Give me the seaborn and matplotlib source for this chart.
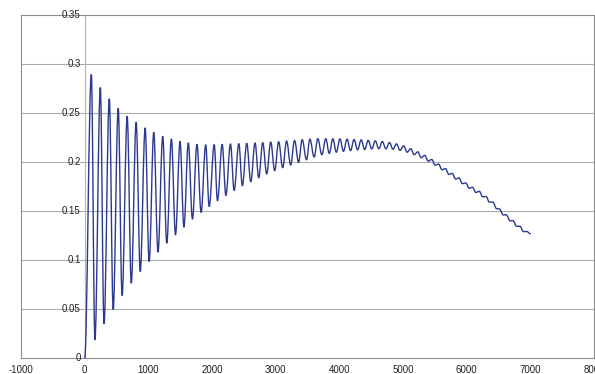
import matplotlib
matplotlib.use("Agg")
import matplotlib.pyplot as plt
from matplotlib.path import Path
from matplotlib.patches import PathPatch
import seaborn as sns
import pandas as pd

# Local maxima of the response (time, value)
peak_t = [105, 246, 387, 527, 668, 809, 950, 1085, 1226, 1362, 1498, 1628, 1764, 1901,
          2035, 2160, 2290, 2421, 2546, 2676, 2797, 2922, 3047, 3172, 3297, 3416, 3537, 3662, 3787,
          3898, 4009, 4121, 4232, 4343, 4454, 4565, 4676, 4787, 4898, 5010, 5121, 5232, 5341,
          5451, 5559, 5667, 5773, 5880, 5986, 6092, 6199, 6305, 6412, 6518, 6625, 6731, 6838, 6944]
peak_v = [0.2891, 0.2758, 0.2643, 0.2547, 0.2465, 0.2404, 0.2347, 0.2302, 0.2261, 0.2235,
          0.2210, 0.2194, 0.2180, 0.2175, 0.2177, 0.2180, 0.2184, 0.2187, 0.2190, 0.2194,
          0.2197, 0.2204, 0.2207, 0.2214, 0.2220, 0.2228, 0.2234, 0.2238, 0.2238,
          0.2237, 0.2236, 0.2233, 0.2230, 0.2226, 0.2221, 0.2216, 0.2209, 0.2199, 0.2185,
          0.2165, 0.2136, 0.2104, 0.2068, 0.2026, 0.1978, 0.1933, 0.1884, 0.1838, 0.1787,
          0.1742, 0.1701, 0.1648, 0.1591, 0.1520, 0.1460, 0.1400, 0.1344, 0.1291]

# Local minima of the response (time, value)
trough_t = [161, 304, 448, 588, 732, 873, 1013, 1152, 1290, 1427, 1559, 1693, 1829,
            1956, 2086, 2218, 2348, 2477, 2609, 2734, 2859, 2985, 3110, 3235, 3360, 3485, 3604, 3725,
            3842, 3953, 4065, 4176, 4287, 4398, 4509, 4620, 4731, 4842, 4954, 5065, 5176, 5286,
            5396, 5505, 5613, 5720, 5826, 5933, 6039, 6145, 6252, 6358, 6465, 6571, 6678, 6784, 6891]
trough_v = [0.0187, 0.0350, 0.0497, 0.0639, 0.0765, 0.0884, 0.0986, 0.1082, 0.1173, 0.1258,
            0.1337, 0.1418, 0.1486, 0.1547, 0.1605, 0.1659, 0.1710, 0.1758, 0.1799, 0.1840,
            0.1878, 0.1911, 0.1942, 0.1969, 0.1996, 0.2023, 0.2051, 0.2074,
            0.2088, 0.2099, 0.2109, 0.2116, 0.2124, 0.2128, 0.2133, 0.2135, 0.2134, 0.2130,
            0.2119, 0.2100, 0.2074, 0.2044, 0.2008, 0.1968, 0.1921, 0.1873, 0.1826, 0.1779,
            0.1732, 0.1689, 0.1645, 0.1590, 0.1526, 0.1461, 0.1401, 0.1344, 0.1290]

start_point = (0, 0.0)
end_point = (7000, 0.1268)

x_ticks = [-1000, 0, 1000, 2000, 3000, 4000, 5000, 6000, 7000, 8000]
y_ticks = [0, 0.05, 0.1, 0.15, 0.2, 0.25, 0.3, 0.35]
y_labels = ["0", "0.05", "0.1", "0.15", "0.2", "0.25", "0.3", "0.35"]

LINE_COLOR = "#2c3a8e"

# Interleave maxima and minima into one trace
t = [start_point[0]]
v = [start_point[1]]
for i in range(len(peak_t)):
    t.append(peak_t[i]); v.append(peak_v[i])
    if i < len(trough_t):
        t.append(trough_t[i]); v.append(trough_v[i])
t.append(end_point[0]); v.append(end_point[1])
df = pd.DataFrame({"t": t, "v": v})

sns.set_style("white")
plt.rcParams["font.family"] = ["Liberation Sans", "DejaVu Sans"]

fig = plt.figure(figsize=(5.95, 3.74), dpi=100)
ax = fig.add_axes([21 / 595, 16 / 374, (594 - 21) / 595, (358 - 15) / 374])

for y in y_ticks[1:-1]:
    ax.axhline(y, color="#ababab", lw=0.8, zorder=1)
ax.axvline(0, color="#a9b6cc", lw=0.8, zorder=1)

sns.lineplot(data=df, x="t", y="v", sort=False, estimator=None, ax=ax,
             color=LINE_COLOR, lw=1.0, zorder=3)

# Render the trace as a smoothed line: cubic segments, flat tangents at the
# turning points and a softened slope where the trace keeps falling.
line = ax.get_lines()[-1]
pts = line.get_xydata()
n = len(pts)
slopes = [0.0] * n
for i in range(1, n - 1):
    (xa, ya), (xb, yb), (xc, yc) = pts[i - 1], pts[i], pts[i + 1]
    if (yb - ya) * (yc - yb) > 0:
        slopes[i] = 0.5 * (yc - ya) / (xc - xa)
verts = [tuple(pts[0])]
codes = [Path.MOVETO]
for i in range(n - 1):
    (x0, y0), (x1, y1) = pts[i], pts[i + 1]
    dx = x1 - x0
    h = 0.37 * dx
    verts += [(x0 + h, y0 + slopes[i] * h), (x1 - h, y1 - slopes[i + 1] * h), (x1, y1)]
    codes += [Path.CURVE4] * 3
line.remove()
ax.add_patch(PathPatch(Path(verts, codes), facecolor="none", edgecolor=LINE_COLOR,
                       lw=1.0, zorder=3, joinstyle="round", capstyle="round"))

ax.set_xlim(-1000, 8000)
ax.set_ylim(0, 0.35)
ax.set_xlabel("")
ax.set_ylabel("")
ax.set_xticks(x_ticks)
ax.set_xticklabels([str(x) for x in x_ticks], fontsize=7, color="#222222")
ax.tick_params(axis="x", direction="out", length=3, width=0.6, color="#888888", pad=2)
ax.set_yticks([])

# y-axis labels sit on the vertical axis at t = 0
for y, lab in zip(y_ticks, y_labels):
    ax.annotate(lab, xy=(0, y), xytext=(-3, 0), textcoords="offset points",
                ha="right", va="center", fontsize=7, color="#222222", zorder=4)

for s in ax.spines.values():
    s.set_color("#8c8c8c")
    s.set_linewidth(0.8)
    s.set_visible(True)

fig.savefig("out.png", dpi=100)
